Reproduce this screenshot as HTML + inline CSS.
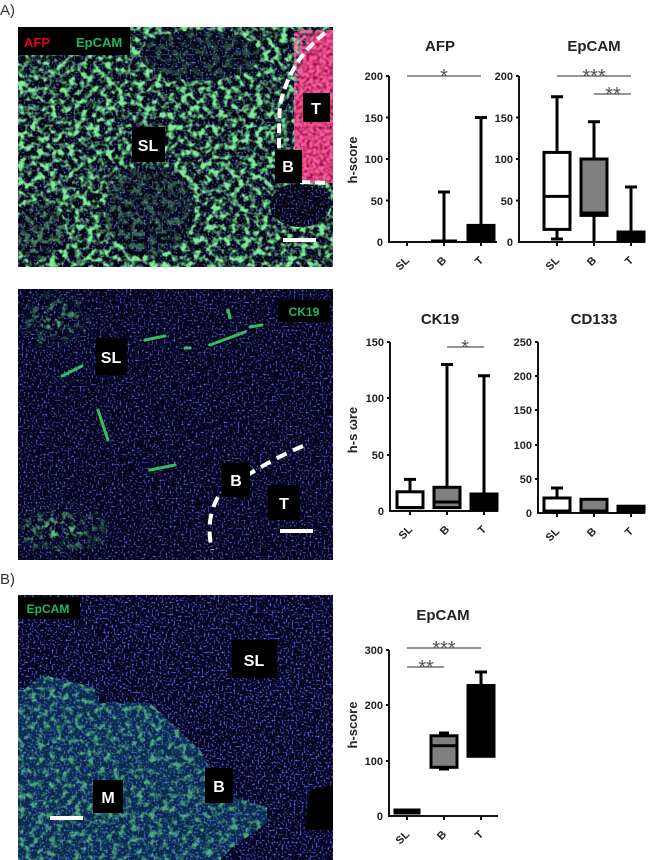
<!DOCTYPE html><html><head><style>
body{margin:0;background:#fff;width:650px;height:860px;overflow:hidden;position:relative;font-family:"Liberation Sans",sans-serif}
svg{position:absolute;left:0;top:0}
</style></head><body>
<svg width="650" height="860" viewBox="0 0 650 860">
<defs>
<filter id="blue" x="0" y="0" width="100%" height="100%"><feTurbulence type="fractalNoise" baseFrequency="0.5" numOctaves="1" seed="3"/><feColorMatrix type="matrix" values="0 0 0 0 0.08  0 0 0 0 0.12  0 0 0 0 0.8  4 0 0 0 -2.1"/></filter>
<filter id="green" x="0" y="0" width="100%" height="100%"><feTurbulence type="fractalNoise" baseFrequency="0.16" numOctaves="2" seed="7"/><feColorMatrix type="matrix" values="0 0 0 0 0.15  0 0 0 0 0.8  0 0 0 0 0.25  4 0 0 0 -1.95"/></filter>
<filter id="green1" x="0" y="0" width="100%" height="100%"><feTurbulence type="fractalNoise" baseFrequency="0.16" numOctaves="2" seed="7"/><feColorMatrix type="matrix" values="0 0 0 0 0.2  0 0 0 0 0.85  0 0 0 0 0.3  4 0 0 0 -1.75"/></filter>
<filter id="red" x="0" y="0" width="100%" height="100%"><feTurbulence type="fractalNoise" baseFrequency="0.3" numOctaves="1" seed="2"/><feColorMatrix type="matrix" values="0 0 0 0 0.95  0 0 0 0 0.1  0 0 0 0 0.35  3 0 0 0 -0.9"/></filter>
<clipPath id="c1"><rect x="18" y="27" width="315" height="240"/></clipPath>
<clipPath id="c2"><rect x="18" y="289" width="315" height="271"/></clipPath>
<clipPath id="c3"><rect x="18" y="595" width="315" height="265"/></clipPath>
<radialGradient id="gm" cx="0.5" cy="0.5" r="0.5"><stop offset="0" stop-color="#fff"/><stop offset="1" stop-color="#000"/></radialGradient>
<mask id="m1"><rect x="18" y="27" width="315" height="240" fill="#fff"/><ellipse cx="150" cy="210" rx="45" ry="45" fill="#000" opacity="0.6"/><ellipse cx="200" cy="55" rx="60" ry="25" fill="#000" opacity="0.7"/><ellipse cx="300" cy="205" rx="30" ry="22" fill="#000"/><ellipse cx="40" cy="230" rx="25" ry="30" fill="#000" opacity="0.5"/></mask>
<mask id="m2"><ellipse cx="55" cy="320" rx="40" ry="30" fill="url(#gm)"/><ellipse cx="60" cy="530" rx="60" ry="30" fill="url(#gm)"/></mask>
<mask id="m3"><path d="M23 690 L43 675 L93 687 L100 703 L150 703 L200 750 L210 767 L233 797 L267 807 L267 823 L233 847 L220 860 L18 860 L18 690 Z" fill="#fff"/></mask>
</defs>
<text x="0" y="15" font-size="15" fill="#333">A)</text>
<text x="0" y="584" font-size="15" fill="#333">B)</text>
<g clip-path="url(#c1)">
<rect x="18" y="27" width="315" height="240" fill="#04040f"/>
<rect x="18" y="27" width="315" height="240" filter="url(#blue)"/>
<g mask="url(#m1)"><rect x="18" y="27" width="315" height="240" filter="url(#green1)"/></g>
<path d="M310 35 L333 30 L333 183 L300 180 Q285 120 310 35Z" fill="#c8104a" opacity="0.8"/>
<path d="M310 35 L333 30 L333 183 L300 180 Q285 120 310 35Z" filter="url(#red)"/>
<path d="M325 33 Q290 60 280 105 Q278 140 280 180 M300 182 L330 183" stroke="#fff" stroke-width="4" stroke-dasharray="10 5" fill="none"/>
</g>
<rect x="18" y="27" width="112" height="28" fill="#000"/>
<text x="24" y="47" font-size="13" font-weight="bold" fill="#e5001a">AFP</text>
<text x="76" y="47" font-size="13" font-weight="bold" fill="#1db866">EpCAM</text>
<rect x="132" y="127" width="33" height="35" fill="#000"/><text x="148" y="151" font-size="16" font-weight="bold" fill="#fff" text-anchor="middle">SL</text>
<rect x="303" y="93" width="27" height="29" fill="#000"/><text x="316" y="114" font-size="16" font-weight="bold" fill="#fff" text-anchor="middle">T</text>
<rect x="275" y="150" width="27" height="33" fill="#000"/><text x="288" y="172" font-size="16" font-weight="bold" fill="#fff" text-anchor="middle">B</text>
<line x1="283" y1="240" x2="316" y2="240" stroke="#fff" stroke-width="4"/>
<g clip-path="url(#c2)">
<rect x="18" y="289" width="315" height="271" fill="#04041a"/>
<rect x="18" y="289" width="315" height="271" filter="url(#blue)"/>
<g mask="url(#m2)"><rect x="18" y="289" width="315" height="271" filter="url(#green)"/></g>
<g stroke="#3ddc6a" stroke-width="3" stroke-linecap="round" opacity="0.85" fill="none">
<path d="M62 376 L82 366"/><path d="M145 340 L165 336"/><path d="M210 345 L245 332"/><path d="M185 348 L190 348"/><path d="M228 310 L230 318"/><path d="M98 410 L108 440"/><path d="M150 470 L175 465"/><path d="M250 327 L262 325"/></g>
<path d="M303 446 Q270 460 240 480 M218 497 Q205 520 212 550" stroke="#fff" stroke-width="4" stroke-dasharray="11 7" fill="none"/>
</g>
<rect x="278" y="300" width="52" height="22" fill="#000"/><text x="304" y="316" font-size="12" font-weight="bold" fill="#1db866" text-anchor="middle">CK19</text>
<rect x="96" y="338" width="31" height="37" fill="#000"/><text x="111" y="363" font-size="16" font-weight="bold" fill="#fff" text-anchor="middle">SL</text>
<rect x="222" y="463" width="28" height="34" fill="#000"/><text x="236" y="486" font-size="16" font-weight="bold" fill="#fff" text-anchor="middle">B</text>
<rect x="268" y="485" width="32" height="35" fill="#000"/><text x="284" y="509" font-size="16" font-weight="bold" fill="#fff" text-anchor="middle">T</text>
<line x1="280" y1="531" x2="313" y2="531" stroke="#fff" stroke-width="4"/>
<g clip-path="url(#c3)">
<rect x="18" y="595" width="315" height="265" fill="#04041c"/>
<rect x="18" y="595" width="315" height="265" filter="url(#blue)"/>
<rect x="18" y="595" width="315" height="265" filter="url(#blue)" opacity="0.5"/>
<g mask="url(#m3)"><rect x="18" y="595" width="315" height="265" fill="#0a3a5a" opacity="0.7"/><rect x="18" y="595" width="315" height="265" filter="url(#blue)"/><rect x="18" y="595" width="315" height="265" filter="url(#green)" opacity="0.65"/></g>
<path d="M310 790 L333 785 L333 830 L305 830Z" fill="#000"/>
</g>
<rect x="18" y="597" width="62" height="22" fill="#000"/><text x="48" y="613" font-size="12" font-weight="bold" fill="#1db866" text-anchor="middle">EpCAM</text>
<rect x="232" y="640" width="45" height="38" fill="#000"/><text x="254" y="666" font-size="16" font-weight="bold" fill="#fff" text-anchor="middle">SL</text>
<rect x="93" y="780" width="30" height="33" fill="#000"/><text x="108" y="803" font-size="16" font-weight="bold" fill="#fff" text-anchor="middle">M</text>
<rect x="205" y="768" width="28" height="35" fill="#000"/><text x="219" y="792" font-size="16" font-weight="bold" fill="#fff" text-anchor="middle">B</text>
<line x1="50" y1="818" x2="83" y2="818" stroke="#fff" stroke-width="4"/>

<g font-family="Liberation Sans,sans-serif" font-weight="bold" fill="#222">
<text x="440" y="51" font-size="15" text-anchor="middle">AFP</text>
<text x="594" y="51" font-size="15" text-anchor="middle">EpCAM</text>
<text x="440" y="324" font-size="15" text-anchor="middle">CK19</text>
<text x="594" y="324" font-size="15" text-anchor="middle">CD133</text>
<text x="443" y="620" font-size="15" text-anchor="middle">EpCAM</text>
<g font-size="11" text-anchor="end">
<text x="383" y="80">200</text><text x="383" y="122">150</text><text x="383" y="163">100</text><text x="383" y="205">50</text><text x="383" y="246">0</text>
<text x="513" y="80">200</text><text x="513" y="122">150</text><text x="513" y="163">100</text><text x="513" y="205">50</text><text x="513" y="246">0</text>
<text x="384" y="346">150</text><text x="384" y="402">100</text><text x="384" y="459">50</text><text x="384" y="515">0</text>
<text x="532" y="346">250</text><text x="532" y="380">200</text><text x="532" y="414">150</text><text x="532" y="449">100</text><text x="532" y="483">50</text><text x="532" y="517">0</text>
<text x="383" y="654">300</text><text x="383" y="709">200</text><text x="383" y="765">100</text><text x="383" y="820">0</text>
</g>
<g font-size="13">
<text transform="translate(357 160) rotate(-90)" text-anchor="middle">h-score</text>
<text transform="translate(357 430) rotate(-90)" text-anchor="middle">h-s ωre</text>
<text transform="translate(357 725) rotate(-90)" text-anchor="middle">h-score</text>
</g>
<g font-size="11" text-anchor="end">
<text transform="translate(410 261) rotate(-45)">SL</text><text transform="translate(447 261) rotate(-45)">B</text><text transform="translate(484 261) rotate(-45)">T</text>
<text transform="translate(560 261) rotate(-45)">SL</text><text transform="translate(597 261) rotate(-45)">B</text><text transform="translate(634 261) rotate(-45)">T</text>
<text transform="translate(413 530) rotate(-45)">SL</text><text transform="translate(450 530) rotate(-45)">B</text><text transform="translate(487 530) rotate(-45)">T</text>
<text transform="translate(560 532) rotate(-45)">SL</text><text transform="translate(597 532) rotate(-45)">B</text><text transform="translate(634 532) rotate(-45)">T</text>
<text transform="translate(410 835) rotate(-45)">SL</text><text transform="translate(447 835) rotate(-45)">B</text><text transform="translate(484 835) rotate(-45)">T</text>
</g>
<g font-size="20" fill="#555" text-anchor="middle" font-weight="normal">
<text x="444" y="83">*</text><text x="594" y="83">***</text><text x="613" y="101">**</text>
<text x="465" y="354">*</text>
<text x="444" y="655">***</text><text x="426" y="674">**</text>
</g>
</g>
<g stroke="#555" stroke-width="1.2">
<line x1="407" y1="76" x2="481" y2="76"/><line x1="557" y1="76" x2="631" y2="76"/><line x1="594" y1="94" x2="631" y2="94"/>
<line x1="447" y1="347" x2="484" y2="347"/>
<line x1="407" y1="648" x2="481" y2="648"/><line x1="407" y1="667" x2="444" y2="667"/>
</g>
<g stroke="#111" stroke-width="2" fill="none">
<path d="M386 76 H389 M386 117.5 H389 M386 159 H389 M386 200.5 H389 M389 76 V242 H497 M407 242V246 M444 242V246 M481 242V246"/>
<path d="M516 76 H519 M516 117.5 H519 M516 159 H519 M516 200.5 H519 M519 76 V242 H645 M557 242V246 M594 242V246 M631 242V246"/>
<path d="M387 342 H390 M387 398 H390 M387 455 H390 M390 342 V511 H498 M410 511V515 M447 511V515 M484 511V515"/>
<path d="M535 342 H538 M535 376 H538 M535 410 H538 M535 445 H538 M535 479 H538 M538 342 V513 H645 M557 513V517 M594 513V517 M631 513V517"/>
<path d="M386 650 H389 M386 705 H389 M386 761 H389 M389 650 V816 H498 M407 816V820 M444 816V820 M481 816V820"/>
</g>
<g stroke="#000" stroke-width="3">
<path d="M444 242 V192 M438 192 H450 M431 241 H457" fill="none"/>
<rect x="468" y="225.4" width="26" height="16" fill="#000"/><path d="M481 225 V117.5 M475 117.5 H487"/>
<path d="M557 229.5 V239 M551 239 H563 M557 152.4 V96.7 M551 96.7 H563"/>
<rect x="544" y="152.4" width="26" height="77" fill="#fff"/><path d="M544 196.4 H570"/>
<path d="M594 215.4 V242 M594 159 V121.7 M588 121.7 H600"/>
<rect x="581" y="159" width="26" height="56.4" fill="#808080"/><path d="M581 213 H607"/>
<path d="M631 232 V187 M625 187 H637"/><rect x="618" y="232" width="26" height="9" fill="#000"/>
<path d="M410 491.8 V479.4 M404 479.4 H416"/><rect x="397" y="491.8" width="26" height="15.8" fill="#fff"/><path d="M397 507.6 H423"/>
<path d="M447 487.3 V364.5 M441 364.5 H453"/><rect x="434" y="487.3" width="26" height="20.3" fill="#808080"/><path d="M434 502 H460"/>
<path d="M484 494 V375.8 M478 375.8 H490"/><rect x="471" y="494" width="26" height="16" fill="#000"/>
<path d="M557 498 V488 M551 488 H563"/><rect x="544" y="498" width="26" height="13" fill="#fff"/>
<rect x="581" y="499.3" width="26" height="11.7" fill="#808080"/>
<rect x="618" y="506.2" width="26" height="5.5" fill="#000"/>
<rect x="395" y="810" width="24" height="3" fill="#000"/>
<path d="M444 767 V769 M439 769 H449 M444 735.8 V733 M439 733 H449"/>
<rect x="431" y="735.8" width="26" height="31.5" fill="#808080"/><path d="M431 745.8 H457"/>
<path d="M481 685.5 V672 M475 672 H487"/><rect x="468" y="685.5" width="26" height="70.8" fill="#000"/>
</g>
</svg>
</body></html>
